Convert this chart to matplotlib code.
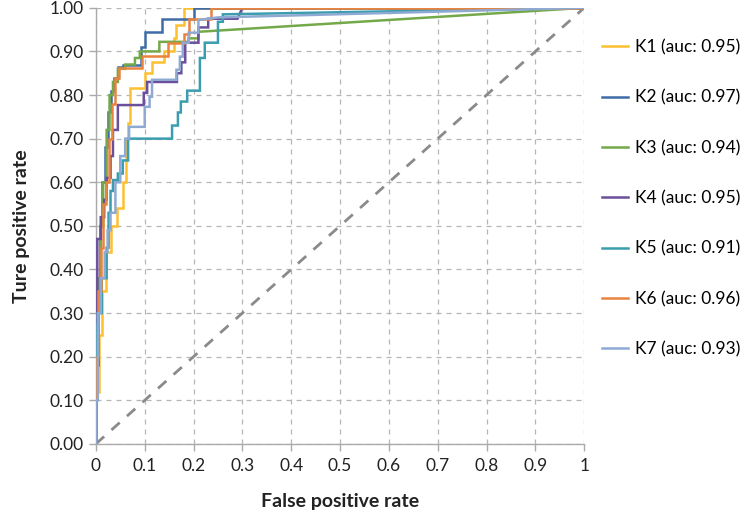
import matplotlib
matplotlib.use("Agg")
import matplotlib.pyplot as plt

plt.rcParams['font.family'] = ['Lato', 'DejaVu Sans']

labels = ["K1 (auc: 0.95)", "K2 (auc: 0.97)", "K3 (auc: 0.94)", "K4 (auc: 0.95)",
          "K5 (auc: 0.91)", "K6 (auc: 0.96)", "K7 (auc: 0.93)"]
colors = ["#FDC02F", "#3F6CA6", "#74A94A", "#6A4F9B", "#3B9DAE", "#E8843F", "#8FAAD2"]

k1_fpr = [0, 0, 0.006, 0.006, 0.012, 0.012, 0.02, 0.02, 0.03, 0.03, 0.043, 0.043, 0.055, 0.055,
          0.062, 0.062, 0.066, 0.066, 0.07, 0.07, 0.1, 0.1, 0.115, 0.115, 0.14, 0.14, 0.16, 0.16,
          0.165, 0.165, 0.18, 0.18, 1.0]
k1_tpr = [0, 0.12, 0.12, 0.25, 0.25, 0.35, 0.35, 0.44, 0.44, 0.5, 0.5, 0.54, 0.54, 0.6,
          0.6, 0.7, 0.7, 0.735, 0.735, 0.815, 0.815, 0.85, 0.85, 0.875, 0.875, 0.9, 0.9, 0.93,
          0.93, 0.96, 0.96, 1.0, 1.0]

k2_fpr = [0, 0, 0.004, 0.004, 0.008, 0.008, 0.013, 0.013, 0.018, 0.018, 0.025, 0.025, 0.03, 0.03,
          0.037, 0.037, 0.045, 0.045, 0.055, 0.055, 0.092, 0.092, 0.1, 0.1, 0.135, 0.135, 0.2, 0.2, 1.0]
k2_tpr = [0, 0.18, 0.18, 0.35, 0.35, 0.5, 0.5, 0.6, 0.6, 0.68, 0.68, 0.76, 0.76, 0.81,
          0.81, 0.84, 0.84, 0.865, 0.865, 0.87, 0.87, 0.91, 0.91, 0.945, 0.945, 0.975, 0.975, 1.0, 1.0]

k3_fpr = [0, 0, 0.005, 0.005, 0.01, 0.01, 0.015, 0.015, 0.022, 0.022, 0.028, 0.028, 0.035, 0.035,
          0.045, 0.045, 0.06, 0.06, 0.08, 0.08, 0.09, 0.09, 0.13, 0.13, 0.19, 0.19, 0.21, 0.21, 1.0]
k3_tpr = [0, 0.2, 0.2, 0.38, 0.38, 0.5, 0.5, 0.6, 0.6, 0.72, 0.72, 0.8, 0.8, 0.83,
          0.83, 0.86, 0.86, 0.87, 0.87, 0.885, 0.885, 0.9, 0.9, 0.922, 0.922, 0.93, 0.93, 0.945, 1.0]

k4_fpr = [0, 0, 0.003, 0.003, 0.01, 0.01, 0.017, 0.017, 0.022, 0.022, 0.03, 0.03, 0.035, 0.035,
          0.045, 0.045, 0.098, 0.098, 0.105, 0.105, 0.166, 0.166, 0.175, 0.175, 0.183, 0.183, 0.21, 0.21,
          0.23, 0.23, 0.29, 0.3, 1.0]
k4_tpr = [0, 0.3, 0.3, 0.47, 0.47, 0.52, 0.52, 0.56, 0.56, 0.61, 0.61, 0.66, 0.66, 0.72,
          0.72, 0.777, 0.777, 0.805, 0.805, 0.83, 0.83, 0.85, 0.85, 0.875, 0.875, 0.92, 0.92, 0.955,
          0.955, 0.975, 0.975, 1.0, 1.0]

k5_fpr = [0, 0, 0.004, 0.004, 0.012, 0.012, 0.022, 0.022, 0.026, 0.026, 0.03, 0.03, 0.035, 0.035,
          0.045, 0.045, 0.055, 0.055, 0.066, 0.066, 0.1, 0.1, 0.156, 0.156, 0.168, 0.168, 0.174, 0.174,
          0.187, 0.187, 0.213, 0.213, 0.223, 0.223, 0.25, 0.25, 0.26, 0.26, 1.0]
k5_tpr = [0, 0.27, 0.27, 0.3, 0.3, 0.38, 0.38, 0.45, 0.45, 0.53, 0.53, 0.58, 0.58, 0.605,
          0.605, 0.62, 0.62, 0.65, 0.65, 0.7, 0.7, 0.7, 0.7, 0.73, 0.73, 0.76, 0.76, 0.785,
          0.785, 0.81, 0.81, 0.885, 0.885, 0.92, 0.92, 0.968, 0.968, 0.985, 1.0]

k6_fpr = [0, 0, 0.005, 0.005, 0.01, 0.01, 0.015, 0.015, 0.02, 0.02, 0.027, 0.027, 0.033, 0.033,
          0.04, 0.04, 0.048, 0.048, 0.095, 0.095, 0.147, 0.147, 0.18, 0.18, 0.19, 0.19, 0.235, 0.235, 1.0]
k6_tpr = [0, 0.2, 0.2, 0.35, 0.35, 0.45, 0.45, 0.55, 0.55, 0.6, 0.6, 0.7, 0.7, 0.78,
          0.78, 0.84, 0.84, 0.862, 0.862, 0.89, 0.89, 0.92, 0.92, 0.94, 0.94, 0.975, 0.975, 1.0, 1.0]

k7_fpr = [0, 0, 0.004, 0.004, 0.01, 0.01, 0.018, 0.018, 0.024, 0.024, 0.03, 0.03, 0.04, 0.04,
          0.05, 0.05, 0.06, 0.06, 0.068, 0.068, 0.1, 0.1, 0.11, 0.11, 0.115, 0.115, 0.165, 0.165,
          0.172, 0.172, 0.178, 0.178, 0.19, 0.19, 0.21, 0.21, 0.25, 1.0]
k7_tpr = [0, 0.1, 0.1, 0.3, 0.3, 0.38, 0.38, 0.44, 0.44, 0.49, 0.49, 0.53, 0.53, 0.6,
          0.6, 0.66, 0.66, 0.7, 0.7, 0.727, 0.727, 0.773, 0.773, 0.796, 0.796, 0.835, 0.835, 0.858,
          0.858, 0.888, 0.888, 0.92, 0.92, 0.943, 0.943, 0.972, 0.978, 1.0]

fprs = [k1_fpr, k2_fpr, k3_fpr, k4_fpr, k5_fpr, k6_fpr, k7_fpr]
tprs = [k1_tpr, k2_tpr, k3_tpr, k4_tpr, k5_tpr, k6_tpr, k7_tpr]

x_ticks = [0, 0.1, 0.2, 0.3, 0.4, 0.5, 0.6, 0.7, 0.8, 0.9, 1.0]
x_ticklabels = ["0", "0.1", "0.2", "0.3", "0.4", "0.5", "0.6", "0.7", "0.8", "0.9", "1"]
y_ticks = [0, 0.1, 0.2, 0.3, 0.4, 0.5, 0.6, 0.7, 0.8, 0.9, 1.0]
y_ticklabels = ["0.00", "0.10", "0.20", "0.30", "0.40", "0.50", "0.60", "0.70", "0.80", "0.90", "1.00"]

fig = plt.figure(figsize=(7.49, 5.21), dpi=100)
ax = fig.add_axes([0.128, 0.148, 0.652, 0.837])

ax.plot([0, 1], [0, 1], color="#8a8a8a", lw=2.0, dashes=(4, 3.5), zorder=2)
for f, t, c, lab in zip(fprs, tprs, colors, labels):
    ax.plot(f, t, color=c, lw=1.8, label=lab, zorder=3, solid_joinstyle='miter')

ax.set_xlim(0, 1)
ax.set_ylim(0, 1)
ax.set_xticks(x_ticks)
ax.set_xticklabels(x_ticklabels)
ax.set_yticks(y_ticks)
ax.set_yticklabels(y_ticklabels)
ax.grid(True, color="#b5b5b5", lw=0.9, dashes=(4, 4))
ax.set_axisbelow(True)
for s in ["top", "right"]:
    ax.spines[s].set_visible(False)
for s in ["left", "bottom"]:
    ax.spines[s].set_color("#aaaaaa")
    ax.spines[s].set_linewidth(1.0)
ax.tick_params(axis='both', colors="#aaaaaa", labelcolor="#222222", labelsize=12.5, length=5, width=1)
ax.tick_params(axis='x', pad=5)
ax.tick_params(axis='y', pad=4)

ax.set_xlabel("False positive rate", fontsize=14, fontweight='bold', labelpad=14, color="#222222")
ax.set_ylabel("Ture positive rate", fontsize=14, fontweight='bold', labelpad=14, color="#222222")

ax.legend(loc='center left', bbox_to_anchor=(1.0, 0.563), frameon=False, fontsize=12.5,
          labelspacing=1.97, handlelength=1.5, handletextpad=0.45, borderaxespad=0.6)

fig.savefig("out.png", dpi=100)
